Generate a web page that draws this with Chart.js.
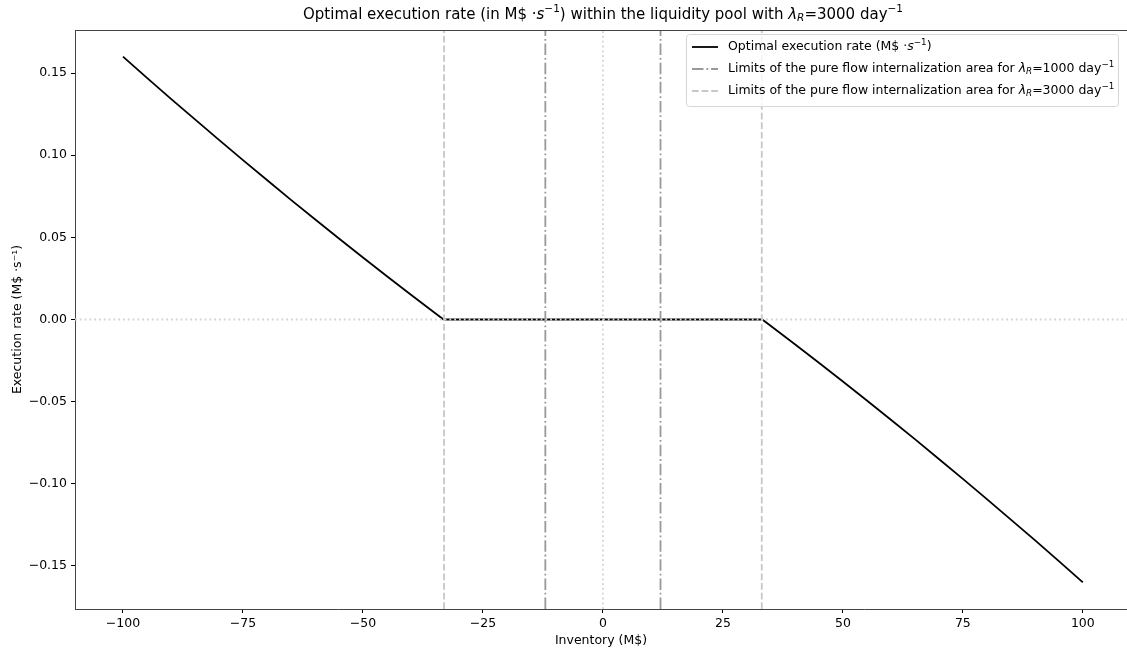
<!DOCTYPE html>
<html lang="en">
<head>
    <meta charset="UTF-8">
    <title>Optimal execution rate</title>
    <script src="https://cdn.jsdelivr.net/npm/chart.js"></script>
    <style>
        html, body { margin: 0; padding: 0; background: #fff; }
        #chartContainer { width: 1127px; height: 653px; }
    </style>
</head>
<body>
    <div id="chartContainer">
        <canvas id="rateChart" width="1127" height="653"></canvas>
    </div>
    <script>
        // Data
        const inventory = [-100, -95, -90, -85, -80, -75, -70, -65, -60, -55, -50, -45, -40, -35, -33.2,
                           0, 33.2, 35, 40, 45, 50, 55, 60, 65, 70, 75, 80, 85, 90, 95, 100];
        const rate = [0.160, 0.1471, 0.1343, 0.1218, 0.1093, 0.0970, 0.0849, 0.0728, 0.0610, 0.0493,
                      0.0377, 0.0263, 0.0151, 0.0040, 0,
                      0, 0, -0.0040, -0.0151, -0.0263, -0.0377, -0.0493, -0.0610, -0.0728, -0.0849,
                      -0.0970, -0.1093, -0.1218, -0.1343, -0.1471, -0.160];
        const limits1000 = [-12, 12];
        const limits3000 = [-33.1, 33.1];
        const xTicks = [-100, -75, -50, -25, 0, 25, 50, 75, 100];
        const yTicks = [-0.15, -0.10, -0.05, 0.00, 0.05, 0.10, 0.15];
        const xRange = [-110, 109.2];
        const yRange = [-0.1762, 0.1762];

        const FONT = "'DejaVu Sans', sans-serif";
        const FS = 12.5;
        const LW = 1.8;

        // vertical lines as two-point segments separated by null
        function vLines(xs) {
            const pts = [];
            xs.forEach((x, i) => {
                if (i > 0) pts.push({ x: x, y: null });
                pts.push({ x: x, y: yRange[0] }, { x: x, y: yRange[1] });
            });
            return pts;
        }

        // draw text made of parts: {t, it (italic), sup, sub}
        function drawRich(ctx, parts, x, y, size, align) {
            const measure = p => {
                const s = (p.sup || p.sub) ? size * 0.7 : size;
                ctx.font = (p.it ? "italic " : "") + s + "px " + FONT;
                return ctx.measureText(p.t).width;
            };
            let total = 0;
            parts.forEach(p => total += measure(p));
            let cx = align === "center" ? x - total / 2 : x;
            ctx.textAlign = "left";
            ctx.textBaseline = "middle";
            parts.forEach(p => {
                const w = measure(p);
                let dy = 0;
                if (p.sup) dy = -size * 0.38;
                if (p.sub) dy = size * 0.25;
                ctx.fillText(p.t, cx, y + dy);
                cx += w;
            });
        }

        const titleParts = [
            { t: "Optimal execution rate (in M$ \u00b7" }, { t: "s", it: true }, { t: "\u22121", sup: true },
            { t: ") within the liquidity pool with " }, { t: "\u03bb", it: true }, { t: "R", it: true, sub: true },
            { t: "=3000 day" }, { t: "\u22121", sup: true }
        ];
        const legendRows = [
            { style: "solid", color: "#000", parts: [{ t: "Optimal execution rate (M$ \u00b7" }, { t: "s", it: true }, { t: "\u22121", sup: true }, { t: ")" }] },
            { style: "dashdot", color: "#999", parts: [{ t: "Limits of the pure flow internalization area for " }, { t: "\u03bb", it: true }, { t: "R", it: true, sub: true }, { t: "=1000 day" }, { t: "\u22121", sup: true }] },
            { style: "dashed", color: "#c8c8c8", parts: [{ t: "Limits of the pure flow internalization area for " }, { t: "\u03bb", it: true }, { t: "R", it: true, sub: true }, { t: "=3000 day" }, { t: "\u22121", sup: true }] }
        ];
        const dashes = { solid: [], dashed: [6.7, 2.9], dashdot: [11.5, 2.9, 1.8, 2.9], dotted: [1.8, 3] };

        const decorations = {
            id: "decorations",
            afterDraw(chart) {
                const ctx = chart.ctx;
                const area = chart.chartArea;
                ctx.save();
                // top spine
                ctx.strokeStyle = "#444";
                ctx.lineWidth = 1;
                ctx.beginPath();
                ctx.moveTo(area.left, area.top + 0.5);
                ctx.lineTo(area.right, area.top + 0.5);
                ctx.stroke();
                // title
                ctx.fillStyle = "#000";
                drawRich(ctx, titleParts, 603, 15, 15, "center");
                // legend
                const bx = 686, by = 34, bw = 432, bh = 72;
                ctx.fillStyle = "rgba(255,255,255,0.8)";
                ctx.strokeStyle = "#d6d6d6";
                ctx.lineWidth = 1;
                ctx.beginPath();
                ctx.roundRect(bx + 0.5, by + 0.5, bw, bh, 3);
                ctx.fill();
                ctx.stroke();
                legendRows.forEach((row, i) => {
                    const ry = 47 + i * 22;
                    ctx.strokeStyle = row.color;
                    ctx.lineWidth = LW;
                    ctx.setLineDash(dashes[row.style]);
                    ctx.beginPath();
                    ctx.moveTo(692, ry);
                    ctx.lineTo(718, ry);
                    ctx.stroke();
                    ctx.setLineDash([]);
                    ctx.fillStyle = "#000";
                    drawRich(ctx, row.parts, 728, ry, FS, "left");
                });
                ctx.restore();
            }
        };

        const minus = s => String(s).replace("-", "\u2212");

        new Chart(document.getElementById("rateChart"), {
            type: "scatter",
            data: {
                datasets: [
                    {
                        label: "zero line",
                        data: [{ x: xRange[0], y: 0 }, { x: xRange[1], y: 0 }],
                        borderColor: "#d3d3d3", borderWidth: LW, borderDash: dashes.dotted,
                        showLine: true, pointRadius: 0, order: 0
                    },
                    {
                        label: "x = 0",
                        data: [{ x: 0, y: yRange[0] }, { x: 0, y: yRange[1] }],
                        borderColor: "#d3d3d3", borderWidth: LW, borderDash: dashes.dotted,
                        showLine: true, pointRadius: 0, order: 1
                    },
                    {
                        label: "Limits 1000",
                        data: vLines(limits1000),
                        borderColor: "#999", borderWidth: LW, borderDash: dashes.dashdot,
                        showLine: true, spanGaps: false, pointRadius: 0, order: 1
                    },
                    {
                        label: "Limits 3000",
                        data: vLines(limits3000),
                        borderColor: "#c8c8c8", borderWidth: LW, borderDash: dashes.dashed,
                        showLine: true, spanGaps: false, pointRadius: 0, order: 1
                    },
                    {
                        label: "Optimal execution rate",
                        data: inventory.map((x, i) => ({ x: x, y: rate[i] })),
                        borderColor: "#000", borderWidth: LW,
                        showLine: true, pointRadius: 0, order: 2
                    }
                ]
            },
            options: {
                responsive: false,
                animation: false,
                events: [],
                layout: { padding: { top: 30, right: 0, left: 0, bottom: 0 } },
                plugins: { legend: { display: false }, title: { display: false }, tooltip: { enabled: false } },
                scales: {
                    x: {
                        type: "linear", min: xRange[0], max: xRange[1],
                        afterBuildTicks: s => { s.ticks = xTicks.map(v => ({ value: v })); },
                        afterFit: s => { s.height = 44; },
                        grid: { drawOnChartArea: false, drawTicks: true, tickLength: 4, tickColor: "#000" },
                        border: { display: true, color: "#444", width: 1 },
                        ticks: { color: "#000", padding: 3, maxRotation: 0, font: { family: FONT, size: FS }, callback: v => minus(v) },
                        title: { display: true, text: "Inventory (M$)", color: "#000", padding: { top: 0, bottom: 5 }, font: { family: FONT, size: FS } }
                    },
                    y: {
                        type: "linear", min: yRange[0], max: yRange[1],
                        afterBuildTicks: s => { s.ticks = yTicks.map(v => ({ value: v })); },
                        afterFit: s => { s.width = 75; },
                        grid: { drawOnChartArea: false, drawTicks: true, tickLength: 4, tickColor: "#000" },
                        border: { display: true, color: "#444", width: 1 },
                        ticks: { color: "#000", padding: 4, font: { family: FONT, size: FS }, callback: v => minus(v.toFixed(2)) },
                        title: { display: true, text: "Execution rate (M$ \u00b7s\u207b\u00b9)", color: "#000", padding: { top: 10, bottom: 0 }, font: { family: FONT, size: FS } }
                    }
                }
            },
            plugins: [decorations]
        });
    </script>
</body>
</html>
